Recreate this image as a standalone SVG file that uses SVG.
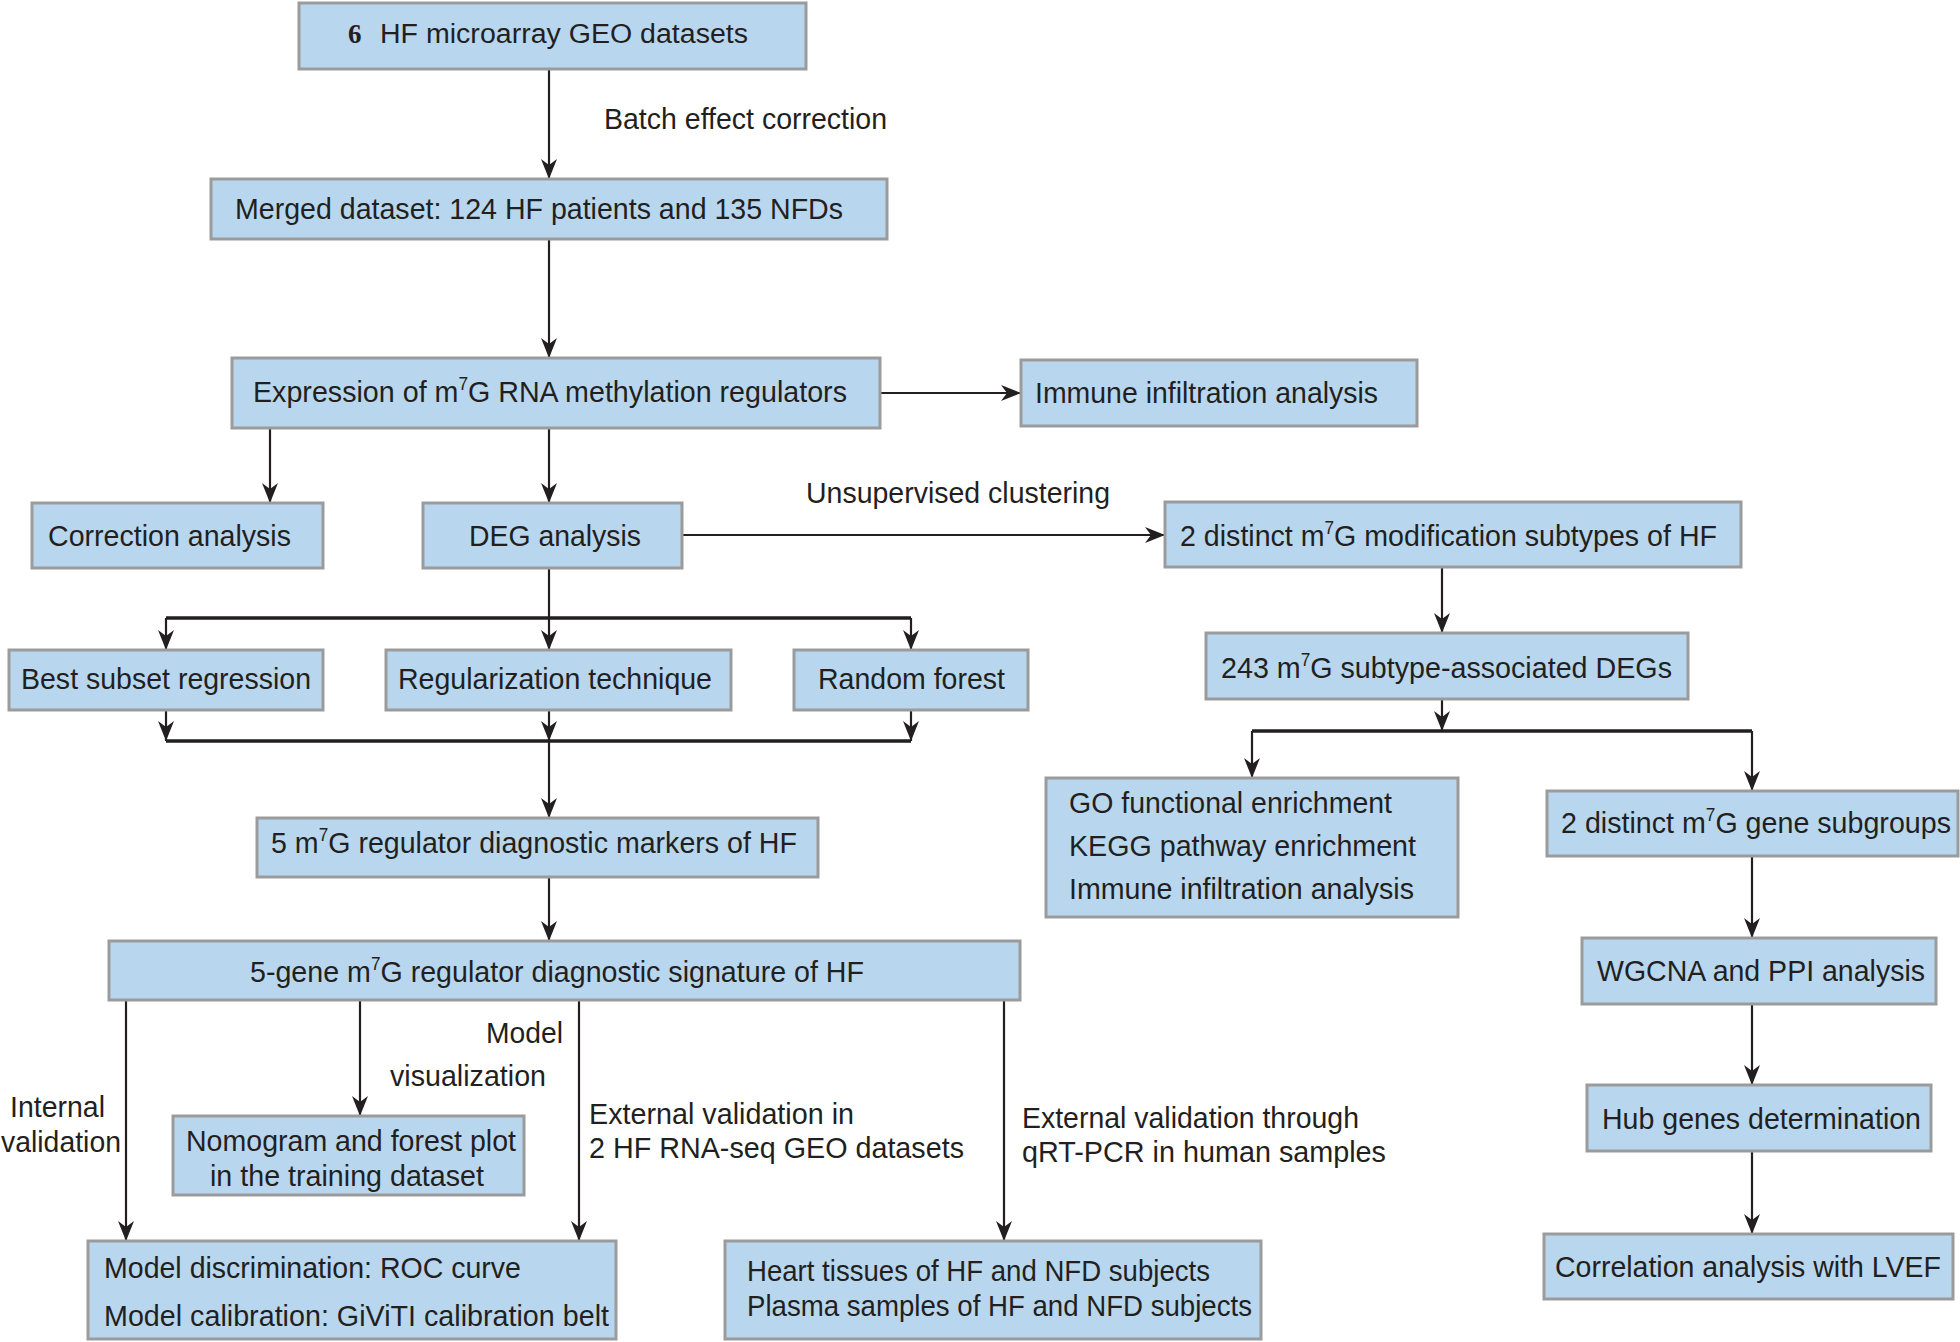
<svg xmlns="http://www.w3.org/2000/svg" width="1960" height="1342" viewBox="0 0 1960 1342">
<style>
.box{fill:#b8d7ee;stroke:#9b9b9b;stroke-width:3}
text{font-family:"Liberation Sans Narrow","Liberation Sans",Arial,sans-serif;font-size:30px;fill:#231f20}
.sup{font-size:18px}
.c{fill:none;stroke:#231f20;stroke-width:2.2}
.bar{fill:none;stroke:#231f20;stroke-width:3.5}
</style>
<defs>
<marker id="ah" markerUnits="userSpaceOnUse" markerWidth="20" markerHeight="18" refX="20" refY="9" orient="auto">
<path d="M0,1 L20,9 L0,17 L6,9 Z" fill="#231f20"/>
</marker>
</defs>
<rect width="1960" height="1342" fill="#ffffff"/>

<g id="connectors">
<path class="c" d="M549,69 V179" marker-end="url(#ah)"/>
<path class="c" d="M549,239 V358" marker-end="url(#ah)"/>
<path class="c" d="M880,393 H1021" marker-end="url(#ah)"/>
<path class="c" d="M270,428 V503" marker-end="url(#ah)"/>
<path class="c" d="M549,428 V503" marker-end="url(#ah)"/>
<path class="c" d="M682,535 H1165" marker-end="url(#ah)"/>
<path class="c" d="M549,568 V650" marker-end="url(#ah)"/>
<path class="bar" d="M166,618 H911"/>
<path class="c" d="M166,618 V650" marker-end="url(#ah)"/>
<path class="c" d="M911,618 V650" marker-end="url(#ah)"/>
<path class="c" d="M166,710 V741" marker-end="url(#ah)"/>
<path class="c" d="M549,710 V741" marker-end="url(#ah)"/>
<path class="c" d="M911,710 V741" marker-end="url(#ah)"/>
<path class="bar" d="M166,741 H911"/>
<path class="c" d="M549,741 V818" marker-end="url(#ah)"/>
<path class="c" d="M549,877 V941" marker-end="url(#ah)"/>
<path class="c" d="M126,1000 V1241" marker-end="url(#ah)"/>
<path class="c" d="M360,1000 V1116" marker-end="url(#ah)"/>
<path class="c" d="M579,1000 V1241" marker-end="url(#ah)"/>
<path class="c" d="M1004,1000 V1241" marker-end="url(#ah)"/>
<path class="c" d="M1442,567 V633" marker-end="url(#ah)"/>
<path class="c" d="M1442,699 V731" marker-end="url(#ah)"/>
<path class="bar" d="M1252,731 H1752"/>
<path class="c" d="M1252,731 V778" marker-end="url(#ah)"/>
<path class="c" d="M1752,731 V791" marker-end="url(#ah)"/>
<path class="c" d="M1752,856 V938" marker-end="url(#ah)"/>
<path class="c" d="M1752,1004 V1085" marker-end="url(#ah)"/>
<path class="c" d="M1752,1152 V1234" marker-end="url(#ah)"/>
</g>

<g id="labels">
<text x="604" y="129" textLength="283" lengthAdjust="spacingAndGlyphs">Batch effect correction</text>
<text x="806" y="503" textLength="304" lengthAdjust="spacingAndGlyphs">Unsupervised clustering</text>
<text x="486" y="1043" textLength="77" lengthAdjust="spacingAndGlyphs">Model</text>
<text x="390" y="1086" textLength="156" lengthAdjust="spacingAndGlyphs">visualization</text>
<text x="10" y="1117" textLength="95" lengthAdjust="spacingAndGlyphs">Internal</text>
<text x="1" y="1152" textLength="120" lengthAdjust="spacingAndGlyphs">validation</text>
<text x="589" y="1124" textLength="265" lengthAdjust="spacingAndGlyphs">External validation in</text>
<text x="589" y="1158" textLength="375" lengthAdjust="spacingAndGlyphs">2 HF RNA-seq GEO datasets</text>
<text x="1022" y="1128" textLength="337" lengthAdjust="spacingAndGlyphs">External validation through</text>
<text x="1022" y="1162" textLength="364" lengthAdjust="spacingAndGlyphs">qRT-PCR in human samples</text>
</g>

<g id="n-geo">
<rect class="box" x="299" y="3" width="507" height="66"/>
<text x="348" y="43" style="font-family:'Liberation Serif',serif;font-weight:bold;font-size:27px">6</text>
<text x="380" y="43" style="font-size:27px" textLength="368" lengthAdjust="spacingAndGlyphs">HF microarray GEO datasets</text>
</g>
<g id="n-merged">
<rect class="box" x="211" y="179" width="676" height="60"/>
<text x="235" y="219" textLength="608" lengthAdjust="spacingAndGlyphs">Merged dataset: 124 HF patients and 135 NFDs</text>
</g>
<g id="n-expression">
<rect class="box" x="232" y="358" width="648" height="70"/>
<text x="253" y="402" textLength="594" lengthAdjust="spacingAndGlyphs">Expression of m<tspan class="sup" dy="-12">7</tspan><tspan dy="12">G RNA methylation regulators</tspan></text>
</g>
<g id="n-immune">
<rect class="box" x="1021" y="360" width="396" height="66"/>
<text x="1035" y="403" textLength="343" lengthAdjust="spacingAndGlyphs">Immune infiltration analysis</text>
</g>
<g id="n-correction">
<rect class="box" x="32" y="503" width="291" height="65"/>
<text x="48" y="546" textLength="243" lengthAdjust="spacingAndGlyphs">Correction analysis</text>
</g>
<g id="n-deg">
<rect class="box" x="423" y="503" width="259" height="65"/>
<text x="469" y="546" textLength="172" lengthAdjust="spacingAndGlyphs">DEG analysis</text>
</g>
<g id="n-subtypes">
<rect class="box" x="1165" y="502" width="576" height="65"/>
<text x="1180" y="546" textLength="537" lengthAdjust="spacingAndGlyphs">2 distinct m<tspan class="sup" dy="-12">7</tspan><tspan dy="12">G modification subtypes of HF</tspan></text>
</g>
<g id="n-best">
<rect class="box" x="9" y="650" width="314" height="60"/>
<text x="21" y="689" textLength="290" lengthAdjust="spacingAndGlyphs">Best subset regression</text>
</g>
<g id="n-reg">
<rect class="box" x="386" y="650" width="345" height="60"/>
<text x="398" y="689" textLength="314" lengthAdjust="spacingAndGlyphs">Regularization technique</text>
</g>
<g id="n-rf">
<rect class="box" x="794" y="650" width="234" height="60"/>
<text x="818" y="689" textLength="187" lengthAdjust="spacingAndGlyphs">Random forest</text>
</g>
<g id="n-243">
<rect class="box" x="1206" y="633" width="482" height="66"/>
<text x="1221" y="678" textLength="451" lengthAdjust="spacingAndGlyphs">243 m<tspan class="sup" dy="-12">7</tspan><tspan dy="12">G subtype-associated DEGs</tspan></text>
</g>
<g id="n-go">
<rect class="box" x="1046" y="778" width="412" height="139"/>
<text x="1069" y="813" textLength="323" lengthAdjust="spacingAndGlyphs">GO functional enrichment</text>
<text x="1069" y="856" textLength="347" lengthAdjust="spacingAndGlyphs">KEGG pathway enrichment</text>
<text x="1069" y="899" textLength="345" lengthAdjust="spacingAndGlyphs">Immune infiltration analysis</text>
</g>
<g id="n-subgroups">
<rect class="box" x="1547" y="791" width="411" height="65"/>
<text x="1561" y="833" textLength="390" lengthAdjust="spacingAndGlyphs">2 distinct m<tspan class="sup" dy="-12">7</tspan><tspan dy="12">G gene subgroups</tspan></text>
</g>
<g id="n-markers">
<rect class="box" x="257" y="818" width="561" height="59"/>
<text x="271" y="853" textLength="526" lengthAdjust="spacingAndGlyphs">5 m<tspan class="sup" dy="-12">7</tspan><tspan dy="12">G regulator diagnostic markers of HF</tspan></text>
</g>
<g id="n-signature">
<rect class="box" x="109" y="941" width="911" height="59"/>
<text x="250" y="982" textLength="614" lengthAdjust="spacingAndGlyphs">5-gene m<tspan class="sup" dy="-12">7</tspan><tspan dy="12">G regulator diagnostic signature of HF</tspan></text>
</g>
<g id="n-wgcna">
<rect class="box" x="1582" y="938" width="354" height="66"/>
<text x="1597" y="981" textLength="328" lengthAdjust="spacingAndGlyphs">WGCNA and PPI analysis</text>
</g>
<g id="n-nomogram">
<rect class="box" x="173" y="1116" width="351" height="79"/>
<text x="186" y="1151" textLength="330" lengthAdjust="spacingAndGlyphs">Nomogram and forest plot</text>
<text x="210" y="1186" textLength="274" lengthAdjust="spacingAndGlyphs">in the training dataset</text>
</g>
<g id="n-hub">
<rect class="box" x="1587" y="1085" width="344" height="66"/>
<text x="1602" y="1129" textLength="319" lengthAdjust="spacingAndGlyphs">Hub genes determination</text>
</g>
<g id="n-model">
<rect class="box" x="88" y="1241" width="528" height="98"/>
<text x="104" y="1278" textLength="417" lengthAdjust="spacingAndGlyphs">Model discrimination: ROC curve</text>
<text x="104" y="1326" textLength="505" lengthAdjust="spacingAndGlyphs">Model calibration: GiViTI calibration belt</text>
</g>
<g id="n-heart">
<rect class="box" x="725" y="1241" width="536" height="98"/>
<text x="747" y="1281" textLength="463" lengthAdjust="spacingAndGlyphs">Heart tissues of HF and NFD subjects</text>
<text x="747" y="1316" textLength="505" lengthAdjust="spacingAndGlyphs">Plasma samples of HF and NFD subjects</text>
</g>
<g id="n-correlation">
<rect class="box" x="1544" y="1234" width="409" height="65"/>
<text x="1555" y="1277" textLength="386" lengthAdjust="spacingAndGlyphs">Correlation analysis with LVEF</text>
</g>
</svg>
